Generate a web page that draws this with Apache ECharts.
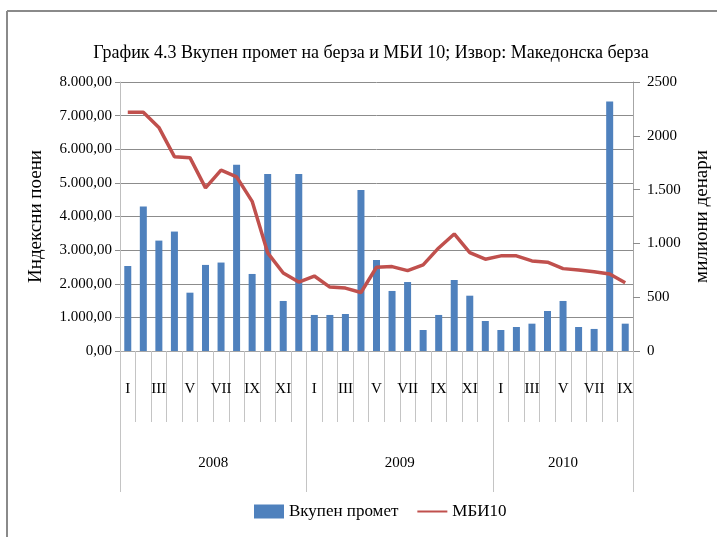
<!DOCTYPE html>
<html>
<head>
<meta charset="utf-8">
<script src="https://cdn.jsdelivr.net/npm/echarts@6/dist/echarts.min.js"></script>
<style>html,body{margin:0;padding:0;background:#fff;}#c{width:717px;height:537px;}</style>
</head>
<body>
<div id="c"></div>
<script>
var months = ['I','II','III','IV','V','VI','VII','VIII','IX','X','XI','XII',
              'I','II','III','IV','V','VI','VII','VIII','IX','X','XI','XII',
              'I','II','III','IV','V','VI','VII','VIII','IX'];
var years = ['2008','2009','2010'];
var yearBoundaries = [0, 12, 24, 33];
var yearCenters = [6, 18, 28.5];
var turnover = [790,1342,1026,1110,542,800,822,1730,716,1646,465,1646,
                335,335,344,1497,846,558,641,195,335,660,514,279,
                195,223,254,372,465,223,205,2318,254];
var mbi10 = [7100,7100,6650,5780,5750,4850,5380,5180,4450,2920,2320,2050,
             2230,1900,1870,1740,2490,2510,2390,2560,3065,3480,2925,2730,
             2830,2830,2680,2640,2450,2410,2360,2290,2030];
var leftTickLabels = ['0,00','1.000,00','2.000,00','3.000,00','4.000,00','5.000,00','6.000,00','7.000,00','8.000,00'];
var rightTickLabels = ['0','500','1.000','1.500','2000','2500'];

var serif = "'Liberation Serif', 'DejaVu Serif', serif";
var chart = echarts.init(document.getElementById('c'));
chart.setOption({
  animation: false,
  backgroundColor: '#fff',
  title: {
    text: 'График 4.3 Вкупен промет на берза и МБИ 10; Извор: Македонска берза',
    left: 366, top: 39, textAlign: 'center',
    textStyle: {fontFamily: serif, fontSize: 18, fontWeight: 'normal', color: '#000'}
  },
  legend: {
    left: 249, top: 498, itemWidth: 30, itemHeight: 14, itemGap: 19,
    textStyle: {fontFamily: serif, fontSize: 17, color: '#000'},
    data: [{name: 'Вкупен промет', icon: 'rect'}, {name: 'МБИ10', icon: 'path://M0,0H30V2H0Z'}]
  },
  grid: {left: 120, right: 84, top: 82, bottom: 186, outerBoundsMode: 'none', containLabel: false},
  graphic: [
    {type: 'line', shape: {x1: 7, y1: 11, x2: 717, y2: 11}, style: {stroke: '#8a8a8a', lineWidth: 2}},
    {type: 'line', shape: {x1: 7, y1: 11, x2: 7, y2: 537}, style: {stroke: '#8a8a8a', lineWidth: 2}}
  ],
  xAxis: [
    {
      type: 'category', data: months, position: 'bottom',
      axisLine: {lineStyle: {color: '#a6a6a6'}},
      axisTick: {show: true, interval: 0, length: 71, lineStyle: {color: '#c4c4c4'}},
      axisLabel: {interval: 1, margin: 31, fontFamily: serif, fontSize: 15, color: '#000'},
      splitLine: {show: false}
    },
    {
      type: 'value', min: 0, max: 33, position: 'bottom',
      axisLine: {show: false},
      axisTick: {show: true, customValues: yearBoundaries, length: 141, lineStyle: {color: '#c4c4c4'}},
      axisLabel: {customValues: yearCenters, margin: 105, fontFamily: serif, fontSize: 15, color: '#000',
        formatter: function (v) { var i = yearCenters.indexOf(v); return i >= 0 ? years[i] : ''; }},
      splitLine: {show: false}
    }
  ],
  yAxis: [
    {
      type: 'value', min: 0, max: 8000, interval: 1000, position: 'left',
      name: 'Индексни поени', nameLocation: 'middle', nameRotate: 90, nameGap: 74,
      nameTextStyle: {fontFamily: serif, fontSize: 19, color: '#000'},
      axisLine: {show: true, lineStyle: {color: '#bfbfbf'}},
      axisTick: {show: true, length: 5, lineStyle: {color: '#8c8c8c'}},
      axisLabel: {margin: 8, fontFamily: serif, fontSize: 15, color: '#000',
        formatter: function (v) { return leftTickLabels[Math.round(v / 1000)]; }},
      splitLine: {show: true, lineStyle: {color: '#8c8c8c', width: 1}}
    },
    {
      type: 'value', min: 0, max: 2500, interval: 500, position: 'right',
      name: 'милиони денари', nameLocation: 'middle', nameRotate: 90, nameGap: 60,
      nameTextStyle: {fontFamily: serif, fontSize: 19, color: '#000'},
      axisLine: {show: true, lineStyle: {color: '#a6a6a6'}},
      axisTick: {show: true, length: 7, lineStyle: {color: '#8c8c8c'}},
      axisLabel: {margin: 14, fontFamily: serif, fontSize: 15, color: '#000',
        formatter: function (v) { return rightTickLabels[Math.round(v / 500)]; }},
      splitLine: {show: false}
    }
  ],
  series: [
    {
      name: 'Вкупен промет', type: 'bar', xAxisIndex: 0, yAxisIndex: 1,
      data: turnover, barWidth: 7, itemStyle: {color: '#4F81BD'}
    },
    {
      name: 'МБИ10', type: 'line', xAxisIndex: 0, yAxisIndex: 0,
      data: mbi10, symbol: 'none', z: 5,
      lineStyle: {color: '#C0504D', width: 3.5}, itemStyle: {color: '#C0504D'}
    }
  ]
});
</script>
</body>
</html>
